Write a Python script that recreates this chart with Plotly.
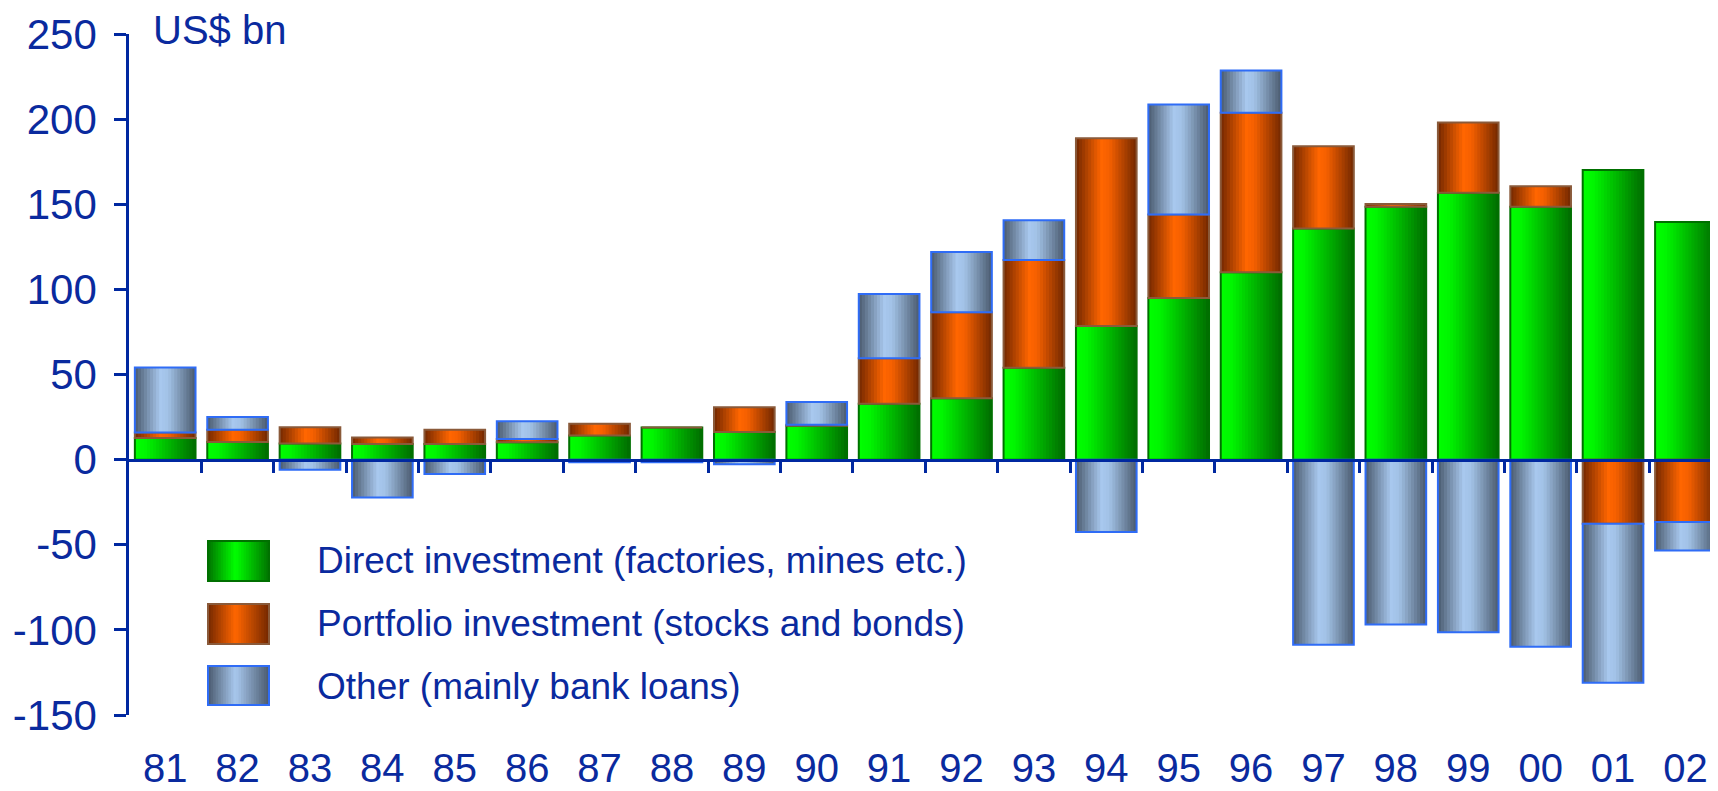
import plotly.graph_objects as go

# ---------------- data ----------------
years = ["81", "82", "83", "84", "85", "86", "87", "88", "89", "90", "91",
         "92", "93", "94", "95", "96", "97", "98", "99", "00", "01", "02"]
direct = [12.7, 10.4, 9.4, 9.2, 9.2, 10.2, 14.1, 18.9, 16.2, 19.9, 32.8,
          36.1, 53.9, 78.5, 94.9, 110.0, 135.8, 148.6, 156.8, 148.6, 170.1, 139.6]
portfolio = [3.3, 7.2, 9.6, 3.8, 8.4, 1.9, 7.0, 0.0, 14.5, 0.6, 26.8,
             50.4, 63.3, 110.2, 49.1, 93.7, 48.2, 1.6, 41.2, 11.9, -37.7, -36.7]
other = [38.1, 7.4, -6.0, -22.3, -8.4, 10.4, -1.5, -1.5, -2.7, 13.3, 37.7,
         35.4, 23.4, -42.5, 64.6, 24.8, -108.7, -96.9, -101.4, -109.9, -93.3, -16.7]
series_names = ["Direct investment (factories, mines etc.)",
                "Portfolio investment (stocks and bonds)",
                "Other (mainly bank loans)"]
y_ticks = [-150, -100, -50, 0, 50, 100, 150, 200, 250]
y_tick_text = ["-150", "-100", "-50", "0", "50", "100", "150", "200", "250"]
unit_label = "US$ bn"

# ---------------- style ----------------
FONT = "Arial, 'Liberation Sans', sans-serif"
TXT = "#0a2a9e"
AX = "#0028a0"
PAGE_W, PAGE_H = 1718, 791
BODY = 8                      # default page body margin in the browser
W, H = PAGE_W - BODY, PAGE_H - BODY
PLOT_L, PLOT_T, PLOT_B = 129, 34, 715   # page pixel positions of the plot area
ML, MT = PLOT_L - BODY, PLOT_T - BODY
MB = H + BODY - PLOT_B
MR = 0
PW, PH = W - ML - MR, H - MT - MB
YMIN, YMAX = -150, 250
XR = [-0.5, 21.45]
BARW = 0.838
NSTRIP = 20

bar_profiles = [
    [(0.0, "#00ff00"), (0.18, "#00f600"), (1.0, "#006c00")],
    [(0.0, "#742800"), (0.42, "#ff6600"), (0.55, "#f56000"), (1.0, "#722800")],
    [(0.0, "#4a5a6e"), (0.42, "#a8c8ee"), (0.55, "#a2c2e6"), (1.0, "#4a5a6e")],
]
legend_profiles = [
    [(0.0, "#007400"), (0.45, "#00ff00"), (1.0, "#007400")],
    [(0.0, "#742800"), (0.45, "#ff6600"), (1.0, "#742800")],
    [(0.0, "#4a5a6e"), (0.45, "#a8c8ee"), (1.0, "#4a5a6e")],
]
outline = ["#007000", "#8a5a3a", "#2f6cf6"]


def hex2rgb(h):
    h = h.lstrip("#")
    return tuple(int(h[i:i + 2], 16) for i in (0, 2, 4))


def grad(stops, t):
    for (p0, c0), (p1, c1) in zip(stops[:-1], stops[1:]):
        if p0 <= t <= p1:
            f = 0 if p1 == p0 else (t - p0) / (p1 - p0)
            a, b = hex2rgb(c0), hex2rgb(c1)
            r = [round(a[i] + (b[i] - a[i]) * f) for i in range(3)]
            return "rgb(%d,%d,%d)" % tuple(r)
    return stops[-1][1]


# relative stacking bases computed from the data
series = [direct, portfolio, other]
pos_acc = [0.0] * len(years)
neg_acc = [0.0] * len(years)
bases = []
for s in series:
    b = []
    for i, v in enumerate(s):
        if v >= 0:
            b.append(pos_acc[i])
            pos_acc[i] += v
        else:
            b.append(neg_acc[i])
            neg_acc[i] += v
    bases.append(b)

fig = go.Figure()
sw = BARW / NSTRIP
for si, s in enumerate(series):
    for k in range(NSTRIP):
        t = (k + 0.5) / NSTRIP
        off = -BARW / 2 + k * sw
        width = min(sw * 1.6, BARW / 2 - off)
        fig.add_trace(go.Bar(
            x=years, y=s, base=bases[si], width=width, offset=off,
            marker=dict(color=grad(bar_profiles[si], t), line=dict(width=0)),
            showlegend=False, hoverinfo="skip"))
    fig.add_trace(go.Bar(
        x=years, y=s, base=bases[si], width=BARW, offset=-BARW / 2,
        name=series_names[si],
        marker=dict(color="rgba(0,0,0,0)", line=dict(color=outline[si], width=2)),
        showlegend=False))

# dummy trace for the zero-line axis
fig.add_trace(go.Scatter(x=[], y=[], xaxis="x2", yaxis="y", showlegend=False))


def px2x(px):
    return (px - PLOT_L) / PW


def px2y(py):
    return (PLOT_B - py) / PH


shapes = []
annotations = []
leg_x0, leg_x1 = 208, 269
leg_rows = [(541, 581), (604, 644), (666, 705)]
leg_text_y = [560, 623, 686]
for si in range(3):
    y0, y1 = leg_rows[si]
    n = 24
    for k in range(n):
        xa = leg_x0 + (leg_x1 - leg_x0) * k / n
        xb = leg_x0 + (leg_x1 - leg_x0) * (k + 1.6) / n
        xb = min(xb, leg_x1)
        shapes.append(dict(type="rect", xref="paper", yref="paper",
                           x0=px2x(xa), x1=px2x(xb), y0=px2y(y1), y1=px2y(y0),
                           fillcolor=grad(legend_profiles[si], (k + 0.5) / n),
                           line=dict(width=0), layer="above"))
    shapes.append(dict(type="rect", xref="paper", yref="paper",
                       x0=px2x(leg_x0), x1=px2x(leg_x1), y0=px2y(y1), y1=px2y(y0),
                       fillcolor="rgba(0,0,0,0)",
                       line=dict(color=outline[si], width=2), layer="above"))
    annotations.append(dict(text=series_names[si], xref="paper", yref="paper",
                            x=px2x(315), y=px2y(leg_text_y[si]),
                            xanchor="left", yanchor="middle", showarrow=False,
                            font=dict(family=FONT, size=37, color=TXT)))

annotations.append(dict(text=unit_label, xref="paper", yref="paper",
                        x=px2x(151), y=px2y(29.5), xanchor="left", yanchor="middle",
                        showarrow=False, font=dict(family=FONT, size=40, color=TXT)))

zero_pos = (0 - YMIN) / (YMAX - YMIN)

fig.update_layout(
    width=W, height=H,
    margin=dict(l=ML, r=MR, t=MT, b=MB, pad=0, autoexpand=False),
    paper_bgcolor="white", plot_bgcolor="white",
    barmode="overlay",
    showlegend=False,
    font=dict(family=FONT, color=TXT),
    xaxis=dict(type="category", categoryorder="array", categoryarray=years,
               range=XR, showline=False, ticks="", showgrid=False, zeroline=False,
               automargin=False,
               tickfont=dict(family=FONT, size=40, color=TXT), ticklabelstandoff=26),
    xaxis2=dict(overlaying="x", anchor="free", position=zero_pos, range=XR,
                type="linear", showline=True, linecolor=AX, linewidth=2.5,
                ticks="outside", ticklen=12, tickwidth=2.5, tickcolor=AX,
                tickvals=[i + 0.5 for i in range(len(years))], automargin=False,
                showticklabels=False, showgrid=False, zeroline=False, side="bottom"),
    yaxis=dict(range=[YMIN, YMAX], tickvals=y_ticks, ticktext=y_tick_text,
               showline=True, linecolor=AX, linewidth=2.5, ticks="outside",
               ticklen=12, tickwidth=2.5, tickcolor=AX, showgrid=False,
               zeroline=False, automargin=False,
               tickfont=dict(family=FONT, size=42, color=TXT),
               ticklabelstandoff=9),
    shapes=shapes,
    annotations=annotations,
)

fig.write_html("out.html")
